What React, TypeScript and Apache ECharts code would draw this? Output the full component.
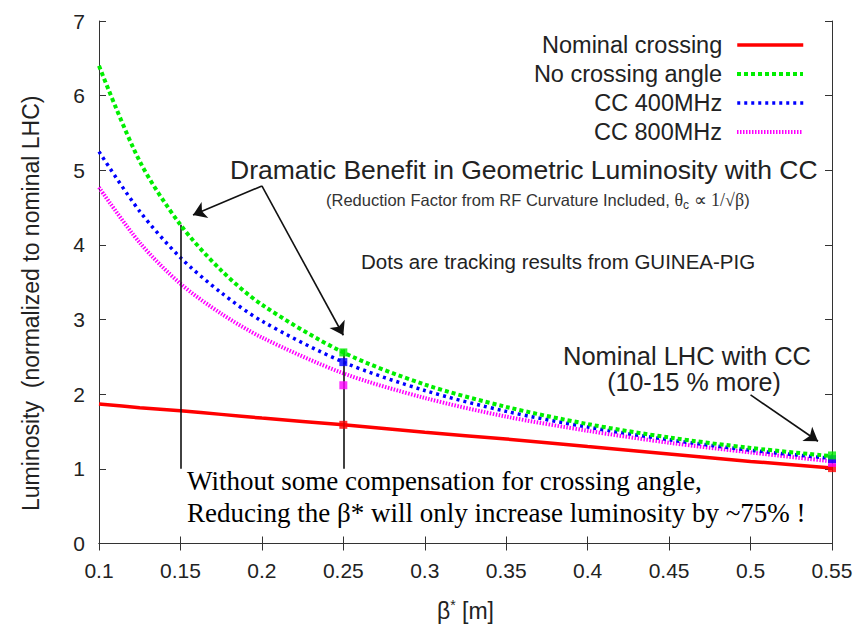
import React, { useEffect, useRef } from "react";
import * as echarts from "echarts";

const betaValues = [0.1, 0.125, 0.15, 0.175, 0.2, 0.25, 0.3, 0.35, 0.4, 0.45, 0.5, 0.55];
const nominalCrossing = [1.87, 1.82, 1.78, 1.73, 1.68, 1.59, 1.49, 1.4, 1.3, 1.2, 1.1, 1.01];
const noCrossingAngle = [6.4, 5.12, 4.27, 3.66, 3.2, 2.56, 2.13, 1.83, 1.6, 1.42, 1.28, 1.17];
const cc400 = [5.25, 4.45, 3.83, 3.36, 2.98, 2.43, 2.05, 1.77, 1.56, 1.39, 1.25, 1.14];
const cc800 = [4.77, 4.03, 3.48, 3.08, 2.76, 2.28, 1.95, 1.7, 1.51, 1.35, 1.22, 1.1];

const dotBetas = [0.25, 0.55];
const dotsNominal = [1.59, 1.01];
const dotsNoCrossing = [2.56, 1.18];
const dotsCC400 = [2.43, 1.13];
const dotsCC800 = [2.12, 1.08];

const xTicks = { min: 0.1, max: 0.55, interval: 0.05 };
const yTicks = { min: 0, max: 7, interval: 1 };

const seriesNames = ["Nominal crossing", "No crossing angle", "CC 400MHz", "CC 800MHz"];
const colors = ["#ff0000", "#00ee00", "#0000ff", "#ff00ff"];
const lineTypes: any[] = ["solid", [4, 3], [3, 4], [1.5, 1.5]];
const lineWidths = [3.5, 4, 3.5, 4];

const SANS = "'Liberation Sans', Arial, Helvetica, sans-serif";
const SERIF = "'Liberation Serif', 'Times New Roman', serif";

function pairs(xs: number[], ys: number[]) {
  return xs.map((x, i) => [x, ys[i]]);
}

export default function App() {
  const ref = useRef<HTMLDivElement>(null);
  useEffect(() => {
    if (!ref.current) return;
    const chart = echarts.init(ref.current, undefined, { renderer: "svg" });
    const axisLine = { show: true, lineStyle: { color: "#333", width: 1 } };
    const tick = { show: true, inside: true, length: 7, lineStyle: { color: "#333", width: 1 } };
    const legendRows = [43, 72, 101, 130];
    const arrow = (from: number[], to: number[]) => [
      { coord: from, symbol: "none" },
      { coord: to, symbol: "arrow" },
    ];
    const seg = (from: number[], to: number[]) => [
      { coord: from, symbol: "none" },
      { coord: to, symbol: "none" },
    ];
    const left = (text: string, x: number, y: number, fontSize: number, family: string, fill = "#222", rich?: any) => ({
      type: "text",
      x,
      y,
      style: {
        text,
        fontSize,
        fontFamily: family,
        fill,
        align: "left",
        verticalAlign: "middle",
        textAlign: "left",
        textVerticalAlign: "middle",
        rich,
      },
    });
    const center = (text: string, x: number, y: number, fontSize: number) => ({
      type: "text",
      x,
      y,
      style: {
        text,
        fontSize,
        fontFamily: SANS,
        fill: "#222",
        align: "center",
        verticalAlign: "middle",
        textAlign: "center",
        textVerticalAlign: "middle",
      },
    });
    chart.setOption({
      animation: false,
      backgroundColor: "#ffffff",
      grid: { left: 99, right: 30, top: 21, bottom: 81, containLabel: false },
      xAxis: [
        {
          type: "value",
          ...xTicks,
          name: "{b|β}{s|*}{b| [m]}",
          nameLocation: "middle",
          nameGap: 54,
          nameTextStyle: {
            rich: {
              b: { fontSize: 23, fontFamily: SANS, color: "#222" },
              s: { fontSize: 14, fontFamily: SANS, color: "#222", padding: [0, 0, 12, 0] },
            },
          },
          axisLine,
          axisTick: tick,
          splitLine: { show: false },
          axisLabel: { fontSize: 21, fontFamily: SANS, color: "#222", margin: 16 },
        },
        {
          type: "value",
          position: "top",
          ...xTicks,
          axisLine,
          axisTick: tick,
          splitLine: { show: false },
          axisLabel: { show: false },
        },
      ],
      yAxis: [
        {
          type: "value",
          ...yTicks,
          name: "Luminosity  (normalized to nominal LHC)",
          nameLocation: "middle",
          nameGap: 57,
          nameRotate: 90,
          nameTextStyle: { fontSize: 23, fontFamily: SANS, color: "#222", padding: [0, 42, 0, 0] },
          axisLine,
          axisTick: tick,
          splitLine: { show: false },
          axisLabel: { fontSize: 21, fontFamily: SANS, color: "#222", margin: 14 },
        },
        {
          type: "value",
          position: "right",
          ...yTicks,
          axisLine,
          axisTick: tick,
          splitLine: { show: false },
          axisLabel: { show: false },
        },
      ],
      legend: seriesNames.map((n, i) => ({
        data: [n],
        right: 52,
        top: legendRows[i] - 15,
        align: "right",
        itemWidth: 66,
        itemHeight: 14,
        selectedMode: false,
        itemStyle: { opacity: 0, borderWidth: 0 },
        lineStyle: { width: lineWidths[i], type: lineTypes[i], color: colors[i] },
        textStyle: { fontSize: 23.5, fontFamily: SANS, color: "#222", padding: [0, 10, 0, 0] },
      })),
      series: [
        {
          name: seriesNames[0],
          type: "line",
          data: pairs(betaValues, nominalCrossing),
          smooth: 0.3,
          symbol: "none",
          lineStyle: { color: colors[0], width: lineWidths[0], type: lineTypes[0] },
          itemStyle: { color: colors[0] },
          z: 2,
        },
        {
          name: seriesNames[3],
          type: "line",
          data: pairs(betaValues, cc800),
          smooth: 0.3,
          symbol: "none",
          lineStyle: { color: colors[3], width: lineWidths[3], type: lineTypes[3] },
          itemStyle: { color: colors[3] },
          z: 3,
        },
        {
          name: seriesNames[2],
          type: "line",
          data: pairs(betaValues, cc400),
          smooth: 0.3,
          symbol: "none",
          lineStyle: { color: colors[2], width: lineWidths[2], type: lineTypes[2] },
          itemStyle: { color: colors[2] },
          z: 4,
        },
        {
          name: seriesNames[1],
          type: "line",
          data: pairs(betaValues, noCrossingAngle),
          smooth: 0.3,
          symbol: "none",
          lineStyle: { color: colors[1], width: lineWidths[1], type: lineTypes[1] },
          itemStyle: { color: colors[1] },
          z: 5,
        },
        {
          name: "annotations",
          type: "scatter",
          data: [],
          silent: true,
          z: 6,
          markLine: {
            silent: true,
            symbolSize: 13,
            label: { show: false },
            lineStyle: { color: "#111", width: 1.6, type: "solid" },
            emphasis: { disabled: true },
            data: [
              seg([0.15, 1.0], [0.15, 4.27]),
              seg([0.25, 1.0], [0.25, 2.6]),
              arrow([0.2, 4.79], [0.1577, 4.4]),
              arrow([0.2, 4.79], [0.25, 2.79]),
              arrow([0.5, 1.99], [0.5414, 1.37]),
            ],
          },
        },
        {
          name: "dots nominal",
          type: "scatter",
          data: pairs(dotBetas, dotsNominal),
          symbol: "rect",
          symbolSize: 8,
          itemStyle: { color: colors[0] },
          z: 10,
        },
        {
          name: "dots cc800",
          type: "scatter",
          data: pairs(dotBetas, dotsCC800),
          symbol: "rect",
          symbolSize: 8,
          itemStyle: { color: colors[3] },
          z: 10,
        },
        {
          name: "dots cc400",
          type: "scatter",
          data: pairs(dotBetas, dotsCC400),
          symbol: "rect",
          symbolSize: 8,
          itemStyle: { color: colors[2] },
          z: 10,
        },
        {
          name: "dots nocross",
          type: "scatter",
          data: pairs(dotBetas, dotsNoCrossing),
          symbol: "rect",
          symbolSize: 8,
          itemStyle: { color: colors[1] },
          z: 10,
        },
      ],
      graphic: [
        left("Dramatic Benefit in Geometric Luminosity with CC", 230, 170, 26.5, SANS),
        left(
          "(Reduction Factor from RF Curvature Included, {m|θ}{sub|c}{m| ∝ 1/√β}{n|)}",
          326,
          200,
          16.5,
          SANS,
          "#333",
          {
            m: { fontSize: 18, fontFamily: SERIF, fill: "#333" },
            n: { fontSize: 16.5, fontFamily: SANS, fill: "#333" },
            sub: { fontSize: 12, fontFamily: SANS, fill: "#333", padding: [10, 0, 0, 0] },
          }
        ),
        left("Dots are tracking results from GUINEA-PIG", 361, 261, 20.5, SANS),
        center("Nominal LHC with CC", 687, 356, 25.5),
        center("(10-15 % more)", 694, 382, 25),
        left("Without some compensation for crossing angle,", 187, 481, 27, SERIF, "#000"),
        left("Reducing the β* will only increase luminosity by ~75% !", 187, 513, 27, SERIF, "#000"),
      ],
    });
    return () => chart.dispose();
  }, []);
  return (
    <div
      ref={ref}
      style={{ width: 862, height: 627, position: "absolute", left: 0, top: 0 }}
    />
  );
}
